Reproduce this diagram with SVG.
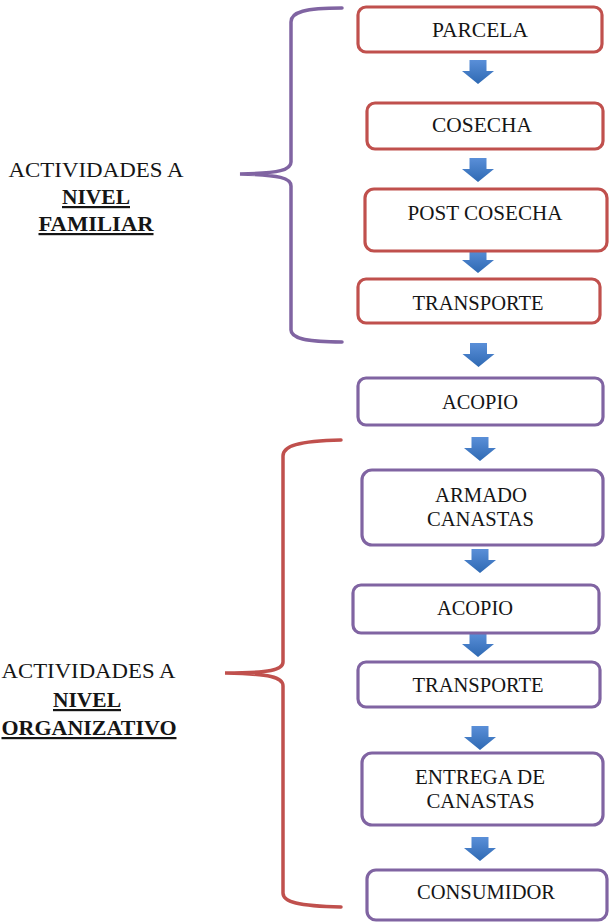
<svg xmlns="http://www.w3.org/2000/svg" xmlns:xlink="http://www.w3.org/1999/xlink" width="609" height="923" viewBox="0 0 609 923">
<style>
.box{fill:#fff;stroke-width:3.2}
.red{stroke:#C0504D}
.pur{stroke:#8064A2}
.t{font-family:"Liberation Serif","Times New Roman",serif;font-size:20px;fill:#151515;text-anchor:middle}
.lab{font-family:"Liberation Serif","Times New Roman",serif;font-size:22px;fill:#151515;text-anchor:middle}
.b{font-weight:bold;text-decoration:underline}
.br{fill:none;stroke-width:3.5;stroke-linecap:round}
</style>
<defs>
<linearGradient id="ag" x1="0" y1="0" x2="0" y2="1">
<stop offset="0" stop-color="#5A8FD8"/>
<stop offset="1" stop-color="#2E69B3"/>
</linearGradient>
<path id="arr" d="M-8.5,0 H8.5 V11 H16 L0,24 L-16,11 H-8.5 Z" fill="url(#ag)"/>
</defs>
<g id="brackets">
<path class="br pur" d="M342,8 C305,8 291,12 291,22 L291,162 C291,170 280,173 240,174 C280,175 291,178 291,186 L291,330 C291,338 305,342 342,342"/>
<path class="br red" d="M341,440 C298,441 283,446 283,456 L283,662 C283,670 270,673 225,673 C270,674 283,677 283,686 L283,893 C283,902 298,906 341,907"/>
</g>
<g id="label-familiar">
<text class="lab" x="96" y="177" textLength="175" lengthAdjust="spacingAndGlyphs">ACTIVIDADES A</text>
<text class="lab b" x="96" y="204" textLength="68" lengthAdjust="spacingAndGlyphs">NIVEL</text>
<text class="lab b" x="96" y="231" textLength="115" lengthAdjust="spacingAndGlyphs">FAMILIAR</text>
</g>
<g id="label-organizativo">
<text class="lab" x="88.5" y="678" textLength="174" lengthAdjust="spacingAndGlyphs">ACTIVIDADES A</text>
<text class="lab b" x="87" y="707" textLength="68" lengthAdjust="spacingAndGlyphs">NIVEL</text>
<text class="lab b" x="89" y="735" textLength="175" lengthAdjust="spacingAndGlyphs">ORGANIZATIVO</text>
</g>
<g id="connectors">
<use xlink:href="#arr" href="#arr" x="478" y="60"/>
<use xlink:href="#arr" href="#arr" x="478" y="158"/>
<use xlink:href="#arr" href="#arr" x="478" y="249"/>
<use xlink:href="#arr" href="#arr" x="478.5" y="343"/>
<use xlink:href="#arr" href="#arr" x="480" y="437"/>
<use xlink:href="#arr" href="#arr" x="480" y="549"/>
<use xlink:href="#arr" href="#arr" x="478" y="633"/>
<use xlink:href="#arr" href="#arr" x="480" y="726"/>
<use xlink:href="#arr" href="#arr" x="480" y="837"/>
</g>
<g id="parcela">
<rect class="box red" x="358" y="7" width="244" height="45" rx="8"/>
<text class="t" x="480" y="37" textLength="96" lengthAdjust="spacingAndGlyphs">PARCELA</text>
</g>
<g id="cosecha">
<rect class="box red" x="367" y="103" width="236" height="46" rx="8"/>
<text class="t" x="482" y="132" textLength="100" lengthAdjust="spacingAndGlyphs">COSECHA</text>
</g>
<g id="post-cosecha">
<rect class="box red" x="365" y="189" width="242" height="62" rx="9"/>
<text class="t" x="485" y="220" textLength="155" lengthAdjust="spacingAndGlyphs">POST COSECHA</text>
</g>
<g id="transporte-1">
<rect class="box red" x="358" y="279" width="242" height="44" rx="8"/>
<text class="t" x="478" y="310" textLength="131" lengthAdjust="spacingAndGlyphs">TRANSPORTE</text>
</g>
<g id="acopio-1">
<rect class="box pur" x="358" y="378" width="245" height="47" rx="8"/>
<text class="t" x="480" y="409" textLength="76" lengthAdjust="spacingAndGlyphs">ACOPIO</text>
</g>
<g id="armado-canastas">
<rect class="box pur" x="362" y="470" width="241" height="75" rx="10"/>
<text class="t" x="481" y="502" textLength="92" lengthAdjust="spacingAndGlyphs">ARMADO</text>
<text class="t" x="480.5" y="526" textLength="107" lengthAdjust="spacingAndGlyphs">CANASTAS</text>
</g>
<g id="acopio-2">
<rect class="box pur" x="353" y="585" width="246" height="48" rx="8"/>
<text class="t" x="475" y="615" textLength="76" lengthAdjust="spacingAndGlyphs">ACOPIO</text>
</g>
<g id="transporte-2">
<rect class="box pur" x="358" y="662" width="242" height="45" rx="8"/>
<text class="t" x="478" y="692" textLength="131" lengthAdjust="spacingAndGlyphs">TRANSPORTE</text>
</g>
<g id="entrega-canastas">
<rect class="box pur" x="362" y="753" width="241" height="72" rx="10"/>
<text class="t" x="480" y="784" textLength="130" lengthAdjust="spacingAndGlyphs">ENTREGA DE</text>
<text class="t" x="480.5" y="808" textLength="108" lengthAdjust="spacingAndGlyphs">CANASTAS</text>
</g>
<g id="consumidor">
<rect class="box pur" x="367" y="870" width="240" height="50" rx="9"/>
<text class="t" x="486" y="899" textLength="138" lengthAdjust="spacingAndGlyphs">CONSUMIDOR</text>
</g>
</svg>
